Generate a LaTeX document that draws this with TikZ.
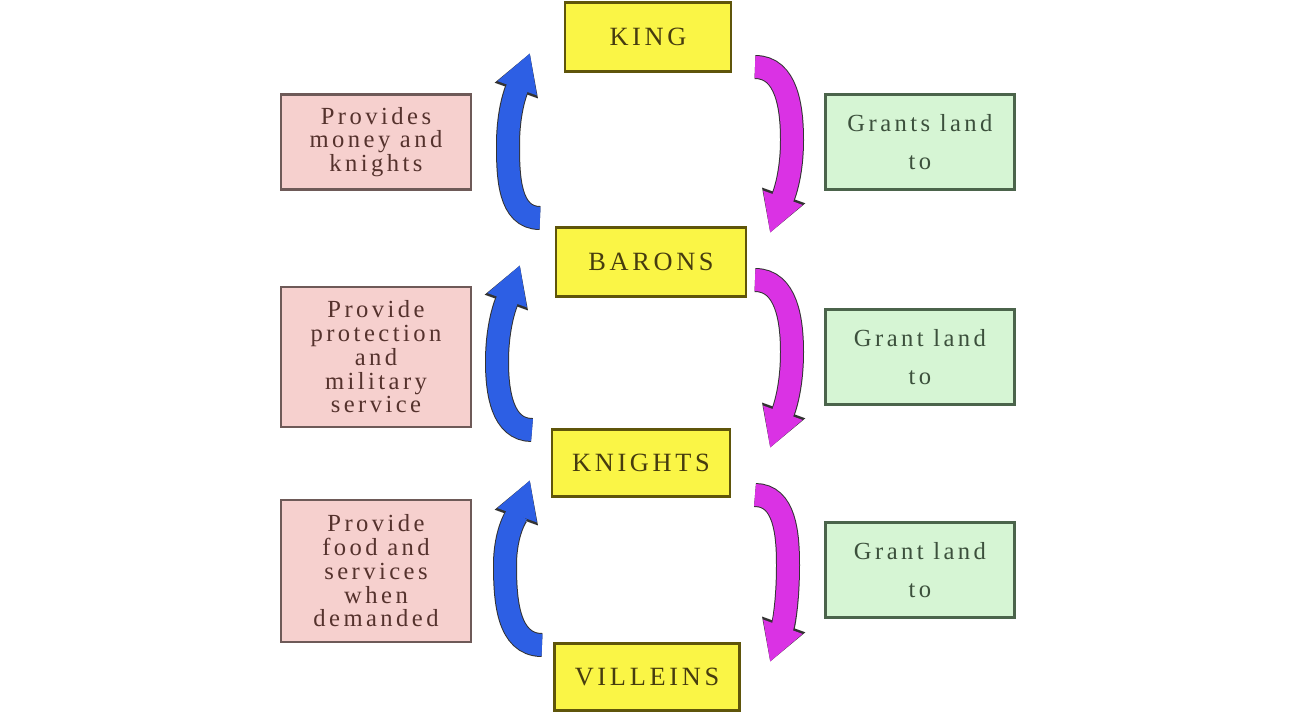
\documentclass[tikz,border=0pt]{standalone}
\usepackage{fontspec}
\setmainfont{Liberation Serif}[LetterSpace=14]
\usetikzlibrary{arrows.meta}
\definecolor{rankfill}{RGB}{250,245,70}
\definecolor{rankline}{RGB}{95,85,10}
\definecolor{ranktext}{RGB}{70,60,15}
\definecolor{dutyfill}{RGB}{246,208,206}
\definecolor{dutyline}{RGB}{110,90,88}
\definecolor{dutytext}{RGB}{85,50,45}
\definecolor{landfill}{RGB}{214,245,212}
\definecolor{landline}{RGB}{75,100,75}
\definecolor{landtext}{RGB}{60,80,60}
\definecolor{upblue}{RGB}{45,95,228}
\definecolor{downpink}{RGB}{218,50,228}
\tikzstyle{rank} = [rectangle, minimum height=1.38cm, draw=rankline, fill=rankfill, line width=1.3pt, text=ranktext, font=\fontsize{15}{15}\selectfont]
\tikzstyle{duty} = [rectangle, minimum width=3.8cm, align=center, draw=dutyline, fill=dutyfill, line width=1.3pt, text=dutytext, font=\fontsize{14}{13.5}\selectfont]
\tikzstyle{grant} = [rectangle, minimum width=3.78cm, minimum height=1.9cm, align=center, draw=landline, fill=landfill, line width=1.3pt, text=landtext, font=\fontsize{14}{21.5}\selectfont]
\tikzstyle{uparrow} = [line width=0.44cm, draw=upblue, -{Triangle[length=0.75cm,width=0.78cm]}, preaction={draw=black!80, line width=0.48cm, -{Triangle[length=0.8cm,width=0.86cm]}}]
\tikzstyle{downarrow} = [line width=0.44cm, draw=downpink, -{Triangle[length=0.75cm,width=0.78cm]}, preaction={draw=black!80, line width=0.48cm, -{Triangle[length=0.8cm,width=0.86cm]}}]

\begin{document}
\begin{tikzpicture}[x=0.02cm, y=-0.02cm]
\useasboundingbox (0,0) rectangle (1296,714);

% Ranks
\node (king) [rank, minimum width=3.32cm] at (648,37) {KING};
\node (barons) [rank, minimum width=3.8cm] at (651,262) {BARONS};
\node (knights) [rank, minimum width=3.56cm, minimum height=1.34cm] at (641,463) {KNIGHTS};
\node (villeins) [rank, minimum width=3.7cm, minimum height=1.34cm] at (647,677) {VILLEINS};

% Duties
\node (money) [duty, minimum height=1.9cm] at (376,142) {Provides\\money and\\knights};
\node (protection) [duty, minimum height=2.8cm] at (376,357) {Provide\\protection\\and\\military\\service};
\node (food) [duty, minimum height=2.84cm] at (376,571) {Provide\\food and\\services\\when\\demanded};

% Land
\node (landbarons) [grant] at (920,142) {Grants land\\to};
\node (landknights) [grant] at (920,357) {Grant land\\to};
\node (landvilleins) [grant] at (920,570) {Grant land\\to};

% Arrow ends and bends
\coordinate (baronsup) at (540,218);
\coordinate (baronsbend) at (508,145);
\coordinate (kingin) at (530,53);
\coordinate (knightsup) at (532,430);
\coordinate (knightsbend) at (497,362);
\coordinate (baronsin) at (520,265);
\coordinate (villeinsup) at (542,645);
\coordinate (villeinsbend) at (505,565);
\coordinate (knightsin) at (530,480);
\coordinate (kingdown) at (755,67);
\coordinate (kingbend) at (792,140);
\coordinate (baronsto) at (770,233);
\coordinate (baronsdown) at (755,280);
\coordinate (lordbend) at (792,352);
\coordinate (knightsto) at (770,448);
\coordinate (knightsdown) at (755,495);
\coordinate (knightbend) at (788,565);
\coordinate (villeinsto) at (770,662);

% Arrows
\draw [uparrow] (baronsup) to [out=180, in=-90] (baronsbend) to [out=90, in=-110] (kingin);
\draw [uparrow] (knightsup) to [out=180, in=-90] (knightsbend) to [out=90, in=-110] (baronsin);
\draw [uparrow] (villeinsup) to [out=180, in=-90] (villeinsbend) to [out=90, in=-110] (knightsin);
\draw [downarrow] (kingdown) to [out=0, in=90] (kingbend) to [out=-90, in=70] (baronsto);
\draw [downarrow] (baronsdown) to [out=0, in=90] (lordbend) to [out=-90, in=70] (knightsto);
\draw [downarrow] (knightsdown) to [out=0, in=90] (knightbend) to [out=-90, in=70] (villeinsto);

\end{tikzpicture}
\end{document}
